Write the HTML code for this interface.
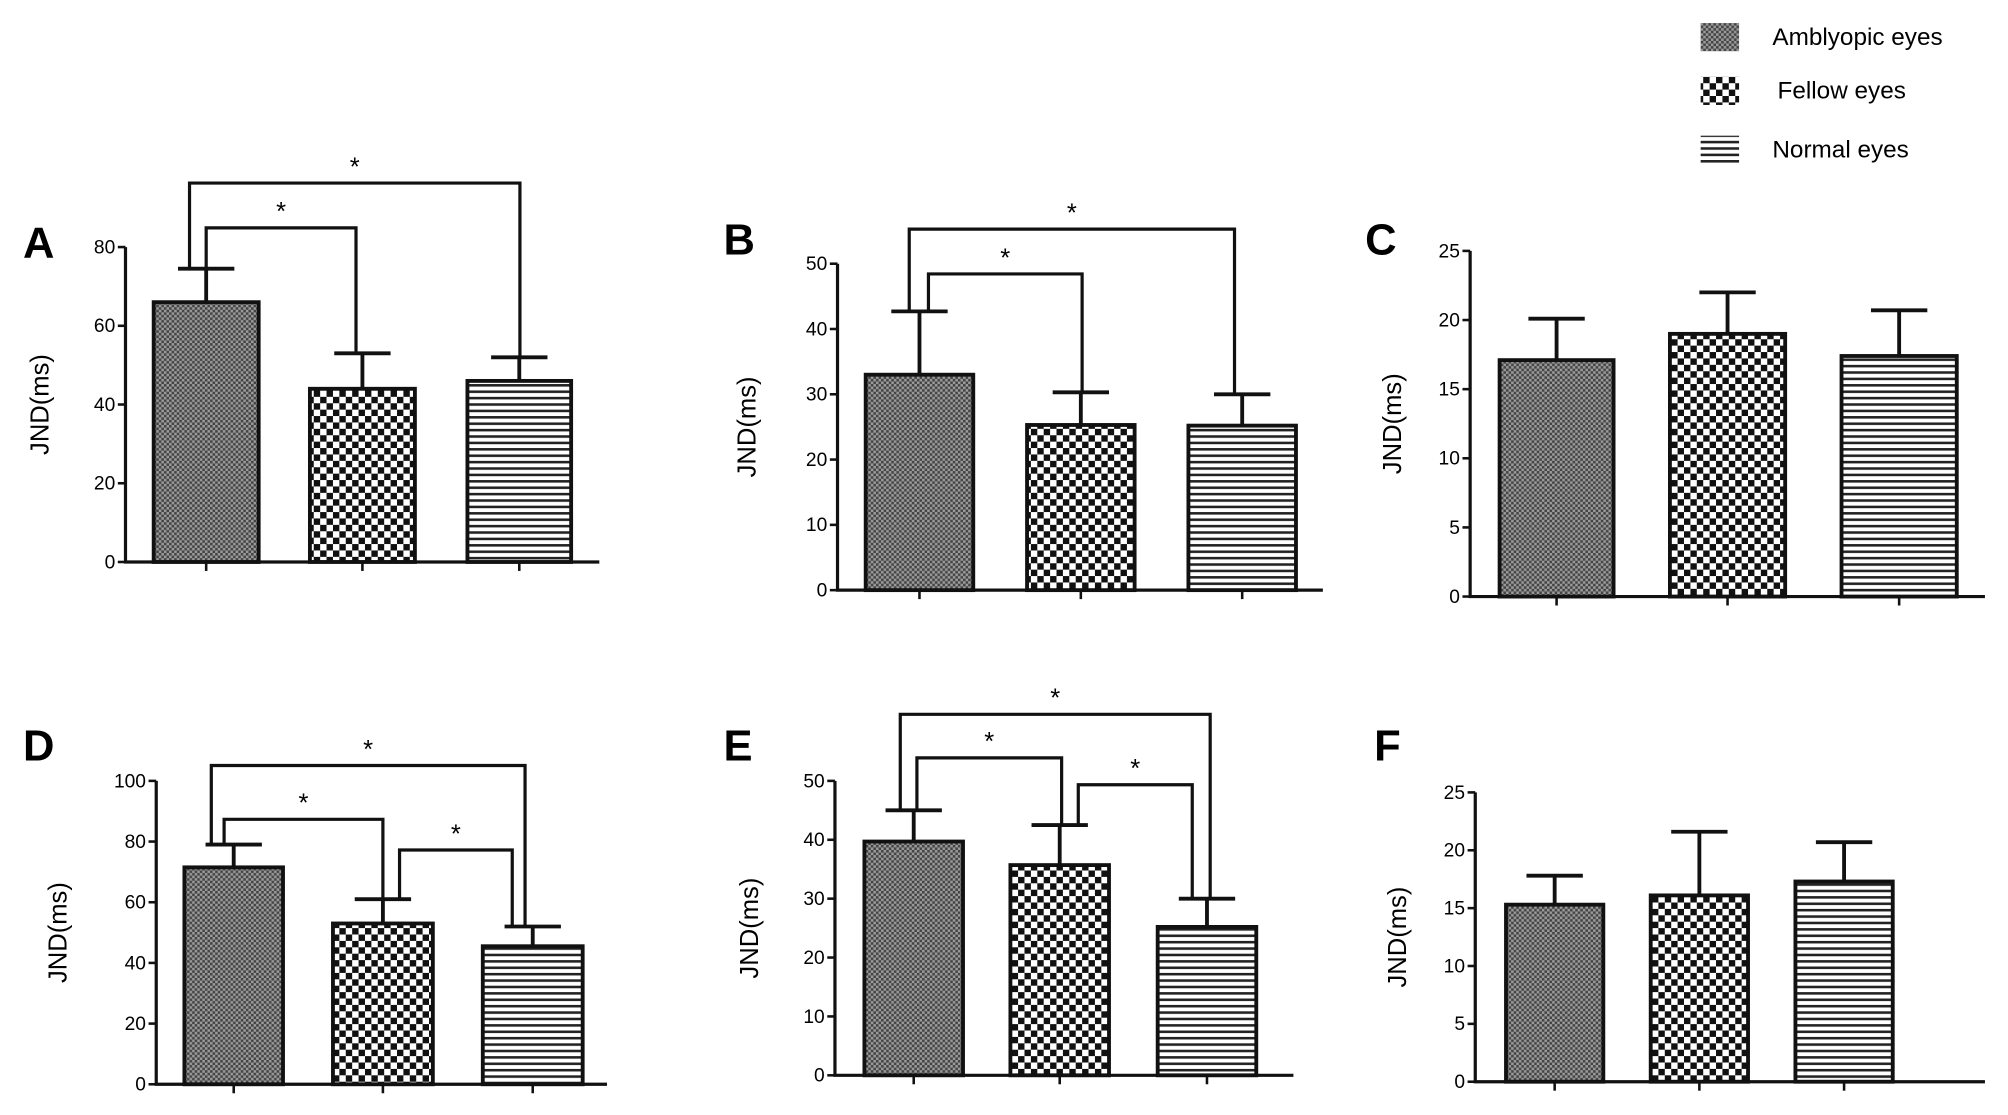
<!DOCTYPE html>
<html><head><meta charset="utf-8"><style>
html,body{margin:0;padding:0;background:#fff;}
svg{display:block;font-family:"Liberation Sans",Arial,sans-serif;}
</style></head><body>
<svg id="fig" width="2008" height="1115" viewBox="0 0 1568 871" preserveAspectRatio="none" xmlns="http://www.w3.org/2000/svg">
<defs>
<pattern id="pA" width="4" height="4" patternUnits="userSpaceOnUse"><rect width="4" height="4" fill="#9a9a9a"/><rect width="2" height="2" fill="#444"/><rect x="2" y="2" width="2" height="2" fill="#444"/></pattern>
<pattern id="pF" width="10" height="10" patternUnits="userSpaceOnUse"><rect width="10" height="10" fill="#fff"/><rect width="5" height="5" fill="#111"/><rect x="5" y="5" width="5" height="5" fill="#111"/></pattern>
<pattern id="pN" width="6" height="5" patternUnits="userSpaceOnUse"><rect width="6" height="5" fill="#fff"/><rect width="6" height="2" fill="#222"/></pattern>
</defs>
<g id="legend">
<rect x="1328" y="18" width="30" height="22" fill="url(#pA)"/>
<text x="1384" y="35" font-size="19">Amblyopic eyes</text>
<rect x="1328" y="60" width="30" height="22" fill="url(#pF)"/>
<text x="1388" y="77" font-size="19">Fellow eyes</text>
<rect x="1328" y="106" width="30" height="22" fill="url(#pN)"/>
<text x="1384" y="123" font-size="19">Normal eyes</text>
</g>
</svg>
<script>
const panelNames = ["A","B","C","D","E","F"];
const meansA = [66, 44, 46];     const errA = [74.5, 53, 52];
const meansB = [33, 25.3, 25.2]; const errB = [42.7, 30.3, 30];
const meansC = [17.1, 19, 17.4]; const errC = [20.1, 22, 20.7];
const meansD = [71.5, 53, 45.5]; const errD = [79, 61, 52];
const meansE = [39.7, 35.7, 25.2]; const errE = [45, 42.5, 30];
const meansF = [15.3, 16.1, 17.3]; const errF = [17.8, 21.6, 20.7];
const ymaxes = [80, 50, 25, 100, 50, 25];
const tickSteps = [20, 10, 5, 20, 10, 5];
const means = [meansA, meansB, meansC, meansD, meansE, meansF];
const errs = [errA, errB, errC, errD, errE, errF];
const sigPairs = [[[0,1],[0,2]], [[0,1],[0,2]], [], [[0,1],[1,2],[0,2]], [[0,1],[1,2],[0,2]], []];

// layout (pixels, not data)
const layout = [
 {ax:98, top:193, bot:439, xr:468, bars:[[120,202],[242,324],[365,446]], lab:[18,201], yl:38, br:[[161,278,178],[148,406,143]]},
 {ax:654, top:206, bot:461, xr:1033, bars:[[676,760],[802,886],[928,1012]], lab:[565,199], yl:590, br:[[725,845,214],[710,964,179]]},
 {ax:1148, top:196, bot:466, xr:1550, bars:[[1171,1260],[1304,1394],[1438,1528]], lab:[1066,199], yl:1094, br:[]},
 {ax:122, top:610, bot:847, xr:474, bars:[[144,221],[260,338],[377,455]], lab:[18,594], yl:52, br:[[175,299,640],[312,400,664],[165,410,598]]},
 {ax:652, top:610, bot:840, xr:1010, bars:[[675,752],[789,866],[904,981]], lab:[565,594], yl:592, br:[[716,829,592],[842,931,613],[703,945,558]]},
 {ax:1152, top:619, bot:845, xr:1550, bars:[[1176,1252],[1289,1365],[1402,1478]], lab:[1073,594], yl:1098, br:[]}
];
const fills = ["url(#pA)","url(#pF)","url(#pN)"];
const groupNames = ["amblyopic","fellow","normal"];
const NS = "http://www.w3.org/2000/svg";
const svg = document.getElementById("fig");
function mk(tag, attrs, parent){const e=document.createElementNS(NS,tag);for(const k in attrs)e.setAttribute(k,attrs[k]);parent.appendChild(e);return e;}

panelNames.forEach((pn, p) => {
  const L = layout[p];
  const yScale = v => L.bot - (v / ymaxes[p]) * (L.bot - L.top);
  const g = mk("g", {}, svg);
  
  
  const lab = mk("text", {x:L.lab[0], y:L.lab[1], "font-size":34, "font-weight":"bold"}, g);
  lab.textContent = pn;
  
  
  const ymid = (L.top + L.bot) / 2;
  const yl = mk("text", {x:L.yl, y:ymid, "font-size":20, "text-anchor":"middle", transform:`rotate(-90 ${L.yl} ${ymid})`}, g);
  yl.textContent = "JND(ms)";
  
  
  // bars
  means[p].forEach((m, i) => {
    const [x1, x2] = L.bars[i];
    const cx = (x1 + x2) / 2;
    const ye = yScale(errs[p][i]);
    const ym = yScale(m);
    const eb = mk("path", {d:`M${cx} ${ym} V${ye} M${cx-22} ${ye} H${cx+22}`, stroke:"#111", "stroke-width":3, fill:"none"}, g);
    
    
    const r = mk("rect", {x:x1, y:ym, width:x2-x1, height:L.bot-ym, fill:fills[i], stroke:"#111", "stroke-width":3}, g);
    
    
    const t = mk("line", {x1:cx, x2:cx, y1:L.bot, y2:L.bot+7, stroke:"#111", "stroke-width":2}, g);
    
    
  });
  // axes
  const axes = mk("path", {d:`M${L.ax} ${L.top} V${L.bot} H${L.xr}`, stroke:"#111", "stroke-width":2.5, fill:"none"}, g);
  
  
  for (let v = 0; v <= ymaxes[p]; v += tickSteps[p]) {
    const y = yScale(v);
    const tk = mk("line", {x1:L.ax-6, x2:L.ax, y1:y, y2:y, stroke:"#111", "stroke-width":2}, g);
    
    
    const tl = mk("text", {x:L.ax-8, y:y+5, "font-size":15, "text-anchor":"end"}, g);
    tl.textContent = v;
    
    
  }
  // significance brackets
  sigPairs[p].forEach((pair, k) => {
    const [bx1, bx2, by] = L.br[k];
    const y1 = yScale(errs[p][pair[0]]);
    const y2 = yScale(errs[p][pair[1]]);
    const b = mk("path", {d:`M${bx1} ${y1} V${by} H${bx2} V${y2}`, stroke:"#111", "stroke-width":2.5, fill:"none"}, g);
    
    
    const s = mk("text", {x:(bx1+bx2)/2, y:by-6, "font-size":20, "text-anchor":"middle"}, g);
    s.textContent = "*";
    
    
  });
});
</script>
</body></html>
